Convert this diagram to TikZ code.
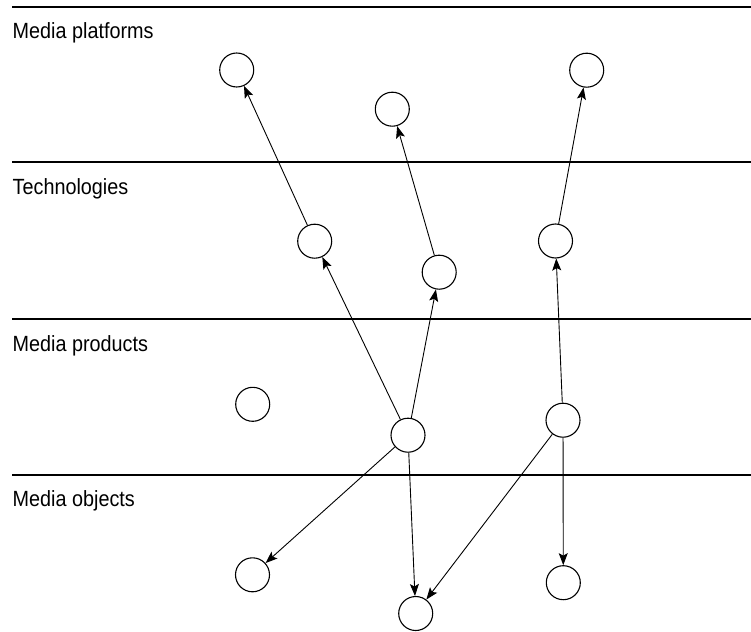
\documentclass[tikz,border=0pt]{standalone}
\usepackage{fontspec}
\setmainfont[FakeStretch=0.9]{Liberation Sans}
\usetikzlibrary{arrows.meta}
\begin{document}
\begin{tikzpicture}[x=1pt,y=-1pt,
  st/.style={circle,draw,line width=1.1pt,minimum size=34pt,inner sep=0pt},
  lay/.style={anchor=base west,inner sep=0pt,font=\fontsize{22}{26}\selectfont},
  sepline/.style={line width=1.1pt},
  arr/.style={-{Stealth[length=12pt,width=9pt,inset=2.5pt]},line width=0.9pt}]
\useasboundingbox (0,0) rectangle (751,631);
% layer separators
\foreach \yy in {7,162,319,475} \draw[sepline] (12,\yy) -- (751,\yy);
% layer labels
\node[lay] (l1) at (12.5,39) {Media platforms};
\node[lay] (l2) at (12.5,194) {Technologies};
\node[lay] (l3) at (12.5,351) {Media products};
\node[lay] (l4) at (12.5,506) {Media objects};
% nodes
\node[st] (p1) at (236.7,70) {};
\node[st] (p2) at (392.3,109.2) {};
\node[st] (p3) at (586.7,70.2) {};
\node[st] (t1) at (314.7,241.2) {};
\node[st] (t2) at (439.2,272.2) {};
\node[st] (t3) at (555.5,241) {};
\node[st] (m0) at (252.7,404.3) {};
\node[st] (m1) at (408,435.2) {};
\node[st] (m2) at (563,420.2) {};
\node[st] (o1) at (252.5,574.8) {};
\node[st] (o2) at (415.7,613.5) {};
\node[st] (o3) at (563.3,582.7) {};
% connectors
\draw[arr] (t1) -- (p1);
\draw[arr] (t2) -- (p2);
\draw[arr] (t3) -- (p3);
\draw[arr] (m1) -- (t1);
\draw[arr] (m1) -- (t2);
\draw[arr] (m2) -- (t3);
\draw[arr] (m1) -- (o1);
\draw[arr] (m1) -- (o2);
\draw[arr] (m2) -- (o2);
\draw[arr] (m2) -- (o3);
\end{tikzpicture}
\end{document}
